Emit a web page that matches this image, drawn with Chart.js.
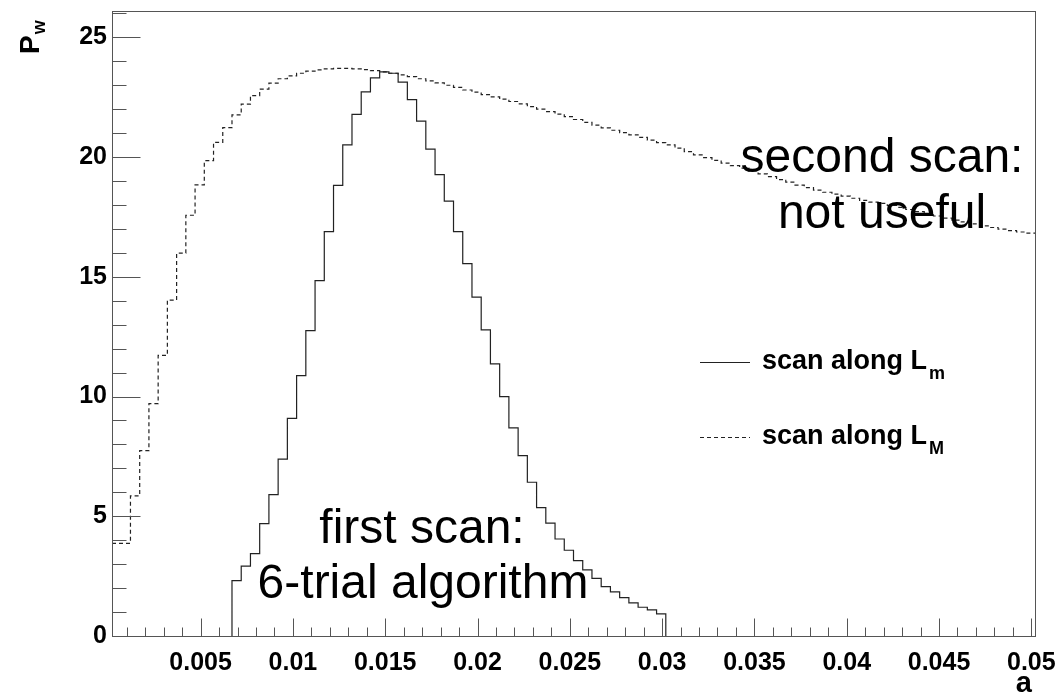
<!DOCTYPE html>
<html>
<head>
<meta charset="utf-8">
<script src="https://cdn.jsdelivr.net/npm/chart.js@4.4.1/dist/chart.umd.min.js"></script>
<style>
  html, body { margin: 0; padding: 0; background: #fff; }
</style>
</head>
<body>
<canvas id="pw-chart" width="1059" height="696"></canvas>
<script>
// histogram binning: 100 bins of 0.0005 starting at 0.0002
const binLow = 0.0002;
const binWidth = 0.0005;

// first scan, along L_m (bins 0..99)
const scanAlongLm = [
  0, 0, 0, 0, 0, 0, 0, 0, 0, 0,
  0, 0, 0, 2.31, 2.92, 3.44, 4.69, 5.90, 7.39, 9.09,
  10.87, 12.75, 14.84, 16.89, 18.82, 20.51, 21.78, 22.72, 23.31, 23.56,
  23.50, 23.13, 22.40, 21.50, 20.33, 19.27, 18.16, 16.89, 15.55, 14.15,
  12.78, 11.36, 10.00, 8.69, 7.53, 6.42, 5.36, 4.71, 4.05, 3.58,
  3.15, 2.76, 2.41, 2.06, 1.84, 1.60, 1.38, 1.20, 1.09, 0.92,
  0, 0, 0, 0, 0, 0, 0, 0, 0, 0,
  0, 0, 0, 0, 0, 0, 0, 0, 0, 0,
  0, 0, 0, 0, 0, 0, 0, 0, 0, 0,
  0, 0, 0, 0, 0, 0, 0, 0, 0, 0
];

// second scan, along L_M (bins 0..99)
const scanAlongLM = [
  3.87, 3.87, 5.85, 7.74, 9.70, 11.72, 14.03, 15.99, 17.57, 18.84,
  19.85, 20.61, 21.23, 21.76, 22.21, 22.57, 22.84, 23.09, 23.27, 23.39,
  23.50, 23.59, 23.64, 23.68, 23.70, 23.70, 23.68, 23.65, 23.61, 23.56,
  23.50, 23.43, 23.36, 23.27, 23.18, 23.10, 23.00, 22.91, 22.80, 22.71,
  22.61, 22.51, 22.42, 22.32, 22.22, 22.11, 22.00, 21.90, 21.79, 21.69,
  21.57, 21.45, 21.33, 21.22, 21.12, 21.02, 20.93, 20.82, 20.71, 20.60,
  20.51, 20.37, 20.23, 20.09, 19.98, 19.86, 19.75, 19.64, 19.54, 19.42,
  19.30, 19.18, 19.06, 18.95, 18.83, 18.72, 18.62, 18.53, 18.45, 18.37,
  18.28, 18.19, 18.12, 18.07, 17.98, 17.90, 17.81, 17.72, 17.63, 17.54,
  17.45, 17.37, 17.29, 17.21, 17.13, 17.06, 16.99, 16.93, 16.87, 16.82
];

const xTickLabels = ['0.005', '0.01', '0.015', '0.02', '0.025', '0.03', '0.035', '0.04', '0.045', '0.05'];
const yTickLabels = ['0', '5', '10', '15', '20', '25'];
const xMinorStep = 0.001;
const yMinorStep = 1;

const xMin = 0.0002, xMax = 0.0502;
const yMin = 0, yMax = 26.1;

const lineColor = '#222';
const axisColor = '#555';
const boldFont = (px) => 'bold ' + px + 'px "Liberation Sans", Arial, sans-serif';
const plainFont = (px) => px + 'px "Liberation Sans", Arial, sans-serif';

// turn bin contents into step points (left edges), trimming empty bins
function toSteps(values) {
  const edge = (k) => binLow + k * binWidth;
  const first = values.findIndex(v => v > 0);
  let last = values.length - 1;
  while (last > first && values[last] === 0) last--;
  const pts = [];
  if (first > 0) pts.push({ x: edge(first), y: 0 });
  for (let k = first; k <= last; k++) pts.push({ x: edge(k), y: values[k] });
  pts.push({ x: edge(last + 1), y: last < values.length - 1 ? 0 : values[last] });
  return pts;
}

const rootAxes = {
  id: 'rootAxes',
  afterDatasetsDraw(chart) {
    const { ctx, chartArea: a, scales: { x, y } } = chart;
    ctx.save();
    ctx.strokeStyle = axisColor;
    ctx.lineWidth = 1;
    ctx.strokeRect(Math.round(a.left) + 0.5, Math.round(a.top) + 0.5,
      Math.round(a.right - a.left), Math.round(a.bottom - a.top));

    const bottom = Math.round(a.bottom) + 0.5;
    const left = Math.round(a.left) + 0.5;
    ctx.beginPath();
    for (let i = 0; i * xMinorStep <= xMax + 1e-9; i++) {
      const v = i * xMinorStep;
      if (v < xMin) continue;
      const px = Math.round(x.getPixelForValue(v)) + 0.5;
      const len = i % 5 === 0 ? 18 : 9;
      ctx.moveTo(px, bottom);
      ctx.lineTo(px, bottom - len);
    }
    for (let i = 0; i * yMinorStep <= yMax; i++) {
      const v = i * yMinorStep;
      const py = Math.round(y.getPixelForValue(v)) + 0.5;
      const len = i % 5 === 0 ? 28 : 14;
      ctx.moveTo(left, py);
      ctx.lineTo(left + len, py);
    }
    ctx.stroke();

    // tick labels
    ctx.fillStyle = '#000';
    ctx.font = boldFont(25);
    ctx.textAlign = 'center';
    ctx.textBaseline = 'middle';
    xTickLabels.forEach(t => {
      ctx.fillText(t, x.getPixelForValue(parseFloat(t)), a.bottom + 27);
    });
    ctx.textAlign = 'right';
    yTickLabels.forEach(t => {
      ctx.fillText(t, a.left - 5, y.getPixelForValue(parseFloat(t)));
    });

    // axis titles
    ctx.font = boldFont(29);
    ctx.textAlign = 'right';
    ctx.fillText('a', a.right - 3, a.bottom + 48);

    ctx.save();
    ctx.translate(39, 54);
    ctx.rotate(-Math.PI / 2);
    ctx.textAlign = 'left';
    ctx.textBaseline = 'alphabetic';
    ctx.font = boldFont(28);
    ctx.fillText('P', 0, 0);
    const pw = ctx.measureText('P').width;
    ctx.font = boldFont(18);
    ctx.fillText('w', pw + 1, 6);
    ctx.restore();

    // legend
    chart.data.datasets.forEach((ds, i) => {
      const ly = [362, 437][i];
      ctx.save();
      ctx.strokeStyle = ds.borderColor;
      ctx.lineWidth = 1;
      ctx.setLineDash(ds.borderDash || []);
      ctx.beginPath();
      ctx.moveTo(700, ly + 0.5);
      ctx.lineTo(750, ly + 0.5);
      ctx.stroke();
      ctx.restore();
      const [main, sub] = ds.label.split('_');
      ctx.textAlign = 'left';
      ctx.textBaseline = 'alphabetic';
      ctx.font = boldFont(27);
      ctx.fillText(main, 762, ly + 7);
      const w = ctx.measureText(main).width;
      ctx.font = boldFont(18);
      ctx.fillText(sub, 762 + w + 2, ly + 17);
    });

    // annotations
    ctx.font = plainFont(48);
    ctx.textAlign = 'center';
    ctx.textBaseline = 'alphabetic';
    ctx.fillText('second scan:', 882, 172);
    ctx.fillText('not useful', 882, 228);
    ctx.fillText('first scan:', 422, 543);
    ctx.fillText('6-trial algorithm', 423, 598);
    ctx.restore();
  }
};

new Chart(document.getElementById('pw-chart').getContext('2d'), {
  type: 'line',
  data: {
    datasets: [
      {
        label: 'scan along L_m',
        data: toSteps(scanAlongLm),
        stepped: 'before',
        borderColor: lineColor,
        borderWidth: 1.2,
        pointRadius: 0,
        fill: false
      },
      {
        label: 'scan along L_M',
        data: toSteps(scanAlongLM),
        stepped: 'before',
        borderColor: lineColor,
        borderWidth: 1.2,
        borderDash: [4, 3],
        pointRadius: 0,
        fill: false
      }
    ]
  },
  options: {
    responsive: false,
    animation: false,
    devicePixelRatio: 1,
    layout: { padding: { left: 112, right: 24, top: 11, bottom: 60 } },
    scales: {
      x: { type: 'linear', min: xMin, max: xMax, display: false },
      y: { type: 'linear', min: yMin, max: yMax, display: false }
    },
    plugins: {
      legend: { display: false },
      tooltip: { enabled: false }
    }
  },
  plugins: [rootAxes]
});
</script>
</body>
</html>
